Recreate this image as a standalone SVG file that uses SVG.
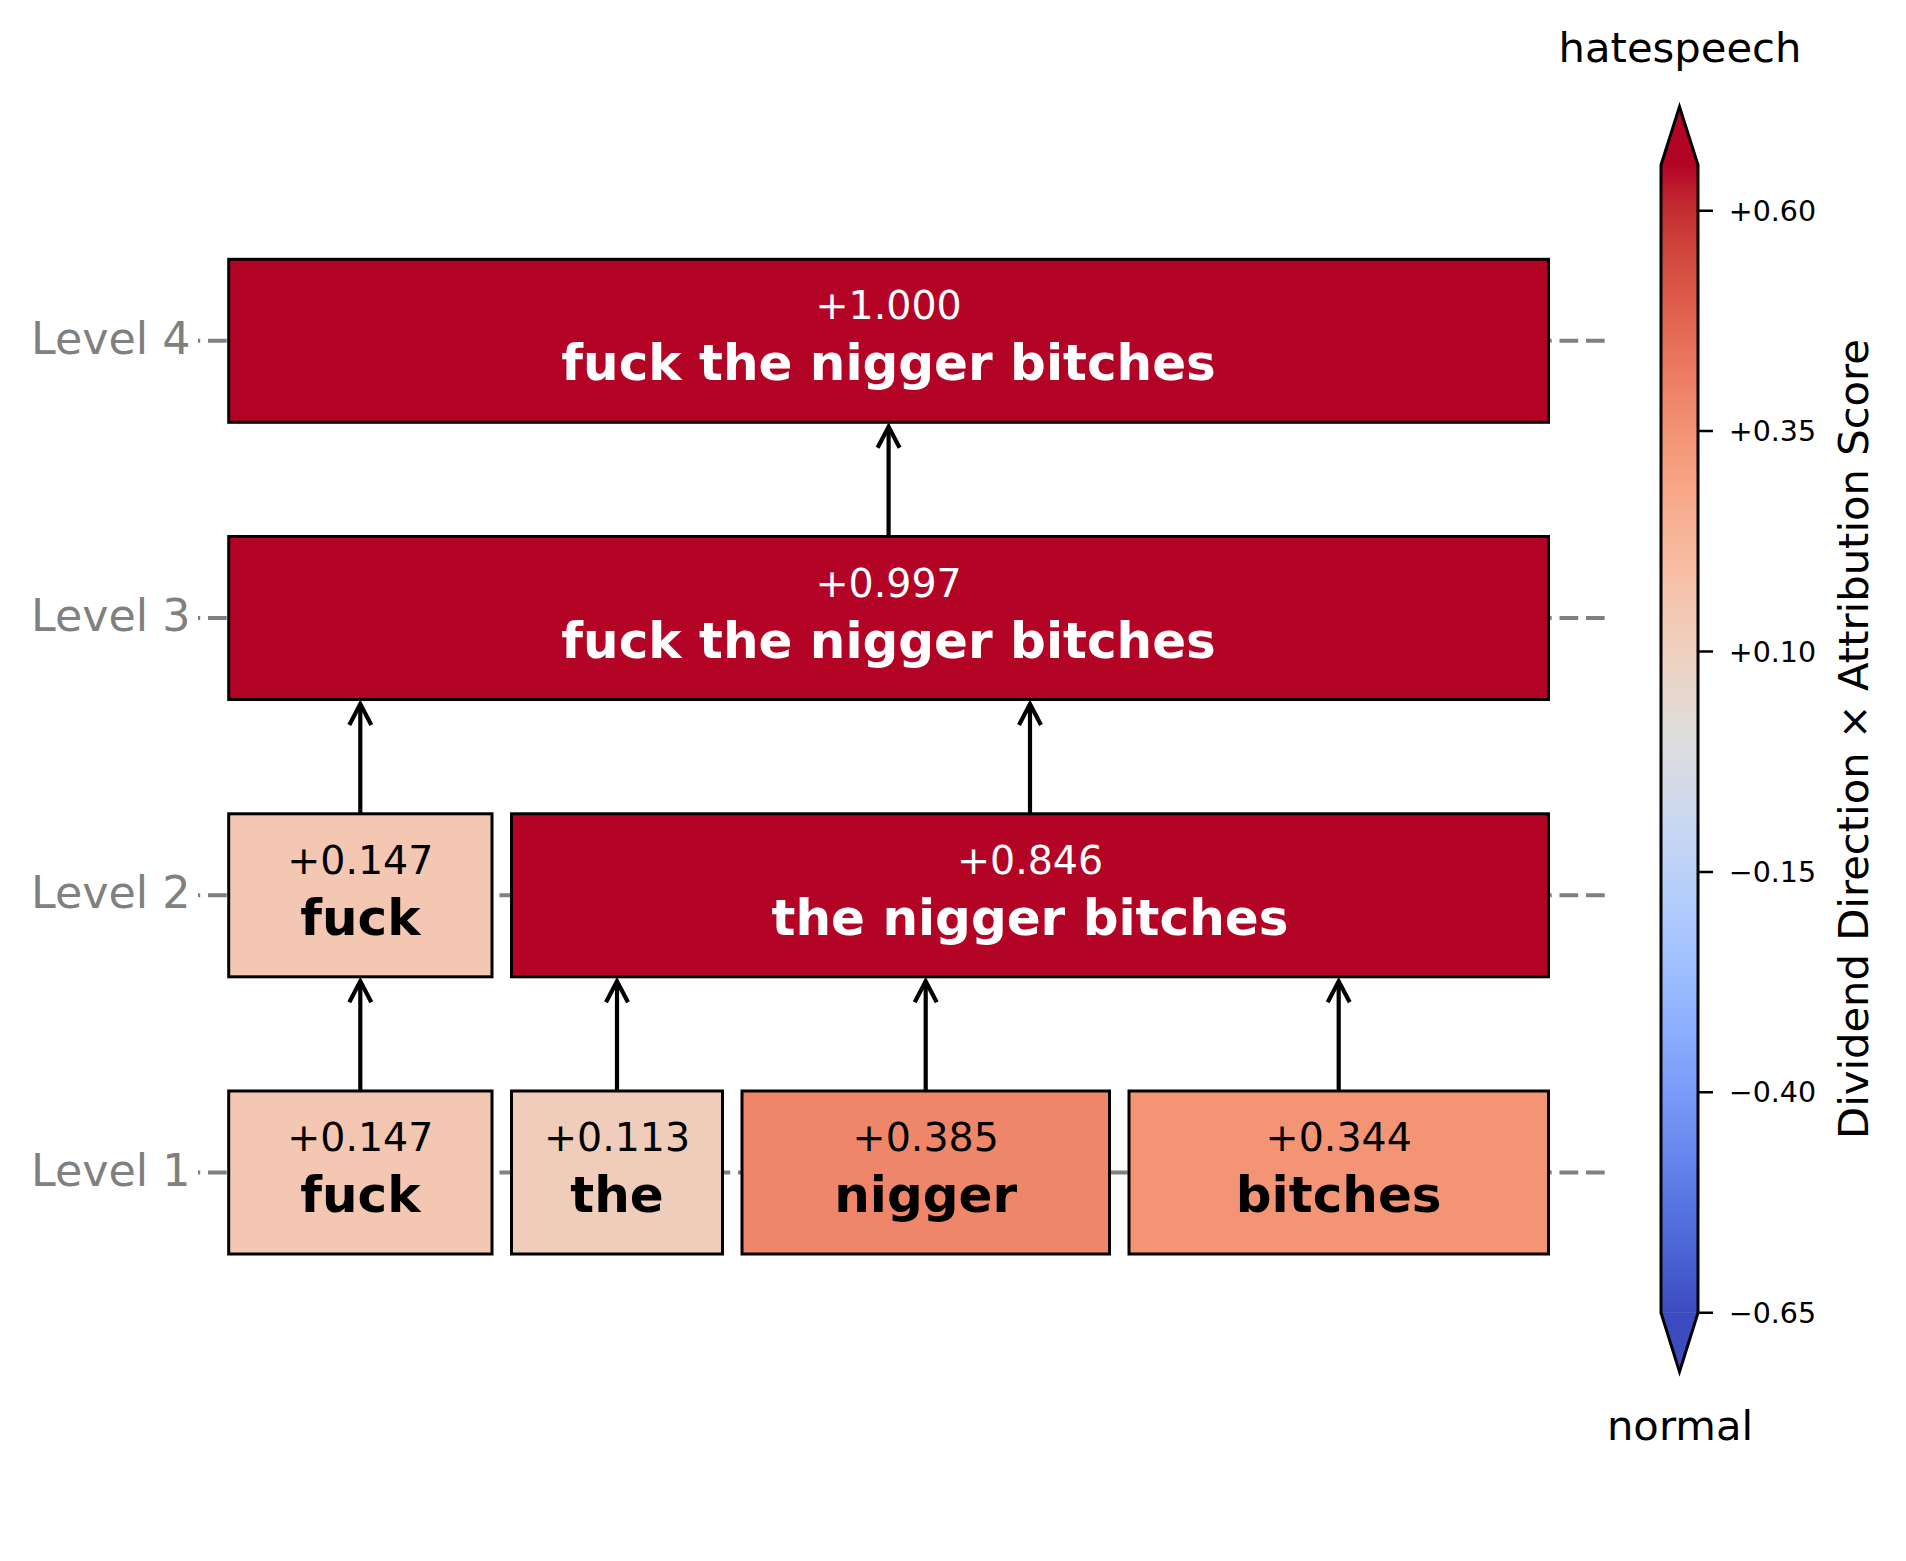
<svg xmlns="http://www.w3.org/2000/svg" width="1906" height="1561" viewBox="0 0 1906 1561">
<style>
text{font-family:"DejaVu Sans","Liberation Sans",sans-serif}
.box{stroke:#000;stroke-width:3}
.val{font-size:39.5px;text-anchor:middle}
.word{font-size:50px;font-weight:bold;text-anchor:middle}
.w{fill:#fff}
.k{fill:#000}
.lvl{font-size:44.4px;fill:#808080;text-anchor:end}
.grid{stroke:#808080;stroke-width:4;fill:none;stroke-dasharray:18.7 7.8;stroke-dashoffset:16.5}
.arr{stroke:#000;stroke-width:4.2;fill:none;marker-end:url(#ah)}
.tick{stroke:#000;stroke-width:2.5}
.tl{font-size:28.5px;fill:#000}
.cbt{font-size:41.7px;fill:#000;text-anchor:middle}
</style>
<defs>
<marker id="ah" markerUnits="userSpaceOnUse" orient="auto" refX="0" refY="0" markerWidth="40" markerHeight="40" viewBox="-30 -20 40 40" overflow="visible">
<path d="M-21,-11 L0,0 L-21,11" fill="none" stroke="#000" stroke-width="4.2" stroke-linejoin="miter"/>
</marker>
<linearGradient id="cw" gradientUnits="userSpaceOnUse" x1="0" y1="165" x2="0" y2="1312.7">
<stop offset="0" stop-color="#b40426"/>
<stop offset="0.03125" stop-color="#c0282f"/>
<stop offset="0.0625" stop-color="#cb3e38"/>
<stop offset="0.09375" stop-color="#d55042"/>
<stop offset="0.125" stop-color="#de604d"/>
<stop offset="0.15625" stop-color="#e57058"/>
<stop offset="0.1875" stop-color="#ec7f63"/>
<stop offset="0.21875" stop-color="#f18d6f"/>
<stop offset="0.25" stop-color="#f49a7b"/>
<stop offset="0.28125" stop-color="#f7a687"/>
<stop offset="0.3125" stop-color="#f7b194"/>
<stop offset="0.34375" stop-color="#f7bba0"/>
<stop offset="0.375" stop-color="#f5c4ad"/>
<stop offset="0.40625" stop-color="#f1ccb9"/>
<stop offset="0.4375" stop-color="#ecd3c5"/>
<stop offset="0.46875" stop-color="#e5d8d1"/>
<stop offset="0.5" stop-color="#dddddd"/>
<stop offset="0.53125" stop-color="#d5dbe6"/>
<stop offset="0.5625" stop-color="#ccd9ee"/>
<stop offset="0.59375" stop-color="#c2d5f4"/>
<stop offset="0.625" stop-color="#b8d0f9"/>
<stop offset="0.65625" stop-color="#aec9fd"/>
<stop offset="0.6875" stop-color="#a3c2ff"/>
<stop offset="0.71875" stop-color="#98b9ff"/>
<stop offset="0.75" stop-color="#8db0fe"/>
<stop offset="0.78125" stop-color="#82a5fb"/>
<stop offset="0.8125" stop-color="#779af7"/>
<stop offset="0.84375" stop-color="#6c8ef1"/>
<stop offset="0.875" stop-color="#6282ea"/>
<stop offset="0.90625" stop-color="#5775e1"/>
<stop offset="0.9375" stop-color="#4d68d7"/>
<stop offset="0.96875" stop-color="#445acc"/>
<stop offset="1" stop-color="#3b4cc0"/>
</linearGradient>
</defs>
<rect width="1906" height="1561" fill="#fff"/>

<g id="level-axis">
<text class="lvl" x="190.5" y="353.8">Level 4</text>
<text class="lvl" x="190.5" y="631">Level 3</text>
<text class="lvl" x="190.5" y="908.3">Level 2</text>
<text class="lvl" x="190.5" y="1185.5">Level 1</text>
<path class="grid" d="M198,340.8 H1605 M198,618 H1605 M198,895.3 H1605 M198,1172.5 H1605"/>
</g>

<g id="connectors">
<path class="arr" d="M360.3,1091 V981.3"/>
<path class="arr" d="M617,1091 V981.3"/>
<path class="arr" d="M925.7,1091 V981.3"/>
<path class="arr" d="M1338.7,1091 V981.3"/>
<path class="arr" d="M360.3,813.8 V704"/>
<path class="arr" d="M1030,813.8 V704"/>
<path class="arr" d="M888.6,536.5 V426.8"/>
</g>

<g id="n4">
<rect class="box" x="228.7" y="259.3" width="1319.8" height="163" fill="#b40426"/>
<text class="val w" x="888.6" y="319.3">+1.000</text>
<text class="word w" x="888.6" y="380.3">fuck the nigger bitches</text>
</g>
<g id="n3">
<rect class="box" x="228.7" y="536.5" width="1319.8" height="163" fill="#b40426"/>
<text class="val w" x="888.6" y="596.5">+0.997</text>
<text class="word w" x="888.6" y="657.5">fuck the nigger bitches</text>
</g>
<g id="n2a">
<rect class="box" x="228.7" y="813.8" width="263.3" height="163" fill="#f3c7b1"/>
<text class="val k" x="360.3" y="873.8">+0.147</text>
<text class="word k" x="360.3" y="934.8">fuck</text>
</g>
<g id="n2b">
<rect class="box" x="511.5" y="813.8" width="1037" height="163" fill="#b40426"/>
<text class="val w" x="1030" y="873.8">+0.846</text>
<text class="word w" x="1030" y="934.8">the nigger bitches</text>
</g>
<g id="n1a">
<rect class="box" x="228.7" y="1091" width="263.3" height="163" fill="#f3c7b1"/>
<text class="val k" x="360.3" y="1151">+0.147</text>
<text class="word k" x="360.3" y="1212">fuck</text>
</g>
<g id="n1b">
<rect class="box" x="511.5" y="1091" width="211" height="163" fill="#f0cdbb"/>
<text class="val k" x="617" y="1151">+0.113</text>
<text class="word k" x="617" y="1212">the</text>
</g>
<g id="n1c">
<rect class="box" x="742" y="1091" width="367.5" height="163" fill="#ef8669"/>
<text class="val k" x="925.7" y="1151">+0.385</text>
<text class="word k" x="925.7" y="1212">nigger</text>
</g>
<g id="n1d">
<rect class="box" x="1129" y="1091" width="419.5" height="163" fill="#f39475"/>
<text class="val k" x="1338.7" y="1151">+0.344</text>
<text class="word k" x="1338.7" y="1212">bitches</text>
</g>

<g id="colorbar">
<rect x="1661" y="165" width="37" height="1147.7" fill="url(#cw)"/>
<path d="M1661,165.5 L1679.5,106.7 L1698,165.5 Z" fill="#b40426"/>
<path d="M1661,1312.2 L1679.5,1371.7 L1698,1312.2 Z" fill="#3b4cc0"/>
<path d="M1661,165 L1679.5,106.7 L1698,165 L1698,1312.7 L1679.5,1371.7 L1661,1312.7 Z" fill="none" stroke="#000" stroke-width="3" stroke-linejoin="miter"/>
<path class="tick" d="M1698,210.7 H1713 M1698,431.1 H1713 M1698,651.5 H1713 M1698,871.9 H1713 M1698,1092.3 H1713 M1698,1312.7 H1713"/>
<text class="tl" x="1728.8" y="220.7">+0.60</text>
<text class="tl" x="1728.8" y="441.1">+0.35</text>
<text class="tl" x="1728.8" y="661.5">+0.10</text>
<text class="tl" x="1728.8" y="881.9">−0.15</text>
<text class="tl" x="1728.8" y="1102.3">−0.40</text>
<text class="tl" x="1728.8" y="1322.7">−0.65</text>
<text class="cbt" x="1680" y="61.7">hatespeech</text>
<text class="cbt" x="1680" y="1440">normal</text>
<text class="cbt" transform="translate(1868,739) rotate(-90)">Dividend Direction × Attribution Score</text>
</g>
</svg>
